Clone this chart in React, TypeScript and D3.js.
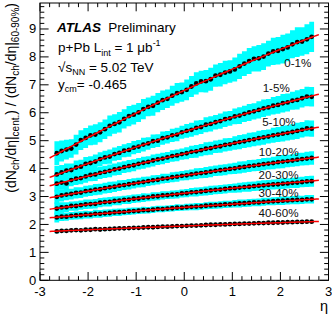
import React from "react";
import * as d3 from "d3";

// eta bin centres (bin width 0.1)
const etaBins = [-2.65, -2.55, -2.45, -2.35, -2.25, -2.15, -2.05, -1.95, -1.85, -1.75, -1.65, -1.55, -1.45, -1.35, -1.25, -1.15, -1.05, -0.95, -0.85, -0.75, -0.65, -0.55, -0.45, -0.35, -0.25, -0.15, -0.05, 0.05, 0.15, 0.25, 0.35, 0.45, 0.55, 0.65, 0.75, 0.85, 0.95, 1.05, 1.15, 1.25, 1.35, 1.45, 1.55, 1.65, 1.75, 1.85, 1.95, 2.05, 2.15, 2.25, 2.35, 2.45, 2.55, 2.65];

const centralities = ["0-1%", "1-5%", "5-10%", "10-20%", "20-30%", "30-40%", "40-60%"];

const ratio0to1 = [4.55, 4.63, 4.68, 4.72, 4.86, 5.02, 5.10, 5.19, 5.22, 5.30, 5.41, 5.53, 5.60, 5.66, 5.78, 5.88, 5.93, 6.01, 6.13, 6.21, 6.25, 6.36, 6.45, 6.50, 6.61, 6.70, 6.74, 6.82, 6.94, 7.05, 7.12, 7.13, 7.20, 7.33, 7.36, 7.44, 7.48, 7.55, 7.66, 7.76, 7.85, 7.93, 7.95, 8.01, 8.12, 8.20, 8.22, 8.28, 8.34, 8.45, 8.53, 8.55, 8.63, 8.72];
const ratio1to5 = [3.79, 3.86, 3.93, 3.95, 4.04, 4.07, 4.17, 4.20, 4.25, 4.34, 4.40, 4.43, 4.52, 4.56, 4.64, 4.67, 4.75, 4.79, 4.86, 4.90, 4.98, 5.00, 5.09, 5.12, 5.19, 5.22, 5.30, 5.35, 5.39, 5.46, 5.49, 5.57, 5.60, 5.66, 5.70, 5.77, 5.80, 5.87, 5.90, 5.96, 6.01, 6.05, 6.10, 6.16, 6.19, 6.25, 6.28, 6.34, 6.37, 6.43, 6.46, 6.52, 6.58, 6.57];
const ratio5to10 = [3.46, 3.50, 3.47, 3.59, 3.64, 3.66, 3.72, 3.77, 3.79, 3.85, 3.88, 3.92, 3.97, 4.00, 4.05, 4.09, 4.12, 4.17, 4.21, 4.24, 4.29, 4.33, 4.36, 4.40, 4.45, 4.47, 4.52, 4.55, 4.60, 4.62, 4.66, 4.71, 4.73, 4.78, 4.80, 4.85, 4.87, 4.92, 4.95, 4.98, 5.02, 5.05, 5.09, 5.12, 5.15, 5.19, 5.22, 5.25, 5.28, 5.31, 5.35, 5.39, 5.44, 5.43];
const ratio10to20 = [2.99, 3.04, 3.07, 3.09, 3.13, 3.14, 3.19, 3.21, 3.25, 3.26, 3.30, 3.33, 3.35, 3.39, 3.41, 3.44, 3.47, 3.50, 3.52, 3.55, 3.58, 3.60, 3.64, 3.65, 3.69, 3.71, 3.74, 3.76, 3.79, 3.82, 3.84, 3.86, 3.89, 3.92, 3.94, 3.96, 3.99, 4.01, 4.04, 4.06, 4.09, 4.11, 4.13, 4.16, 4.18, 4.20, 4.23, 4.25, 4.27, 4.29, 4.32, 4.34, 4.36, 4.38];
const ratio20to30 = [2.57, 2.61, 2.62, 2.66, 2.66, 2.69, 2.72, 2.73, 2.74, 2.78, 2.80, 2.81, 2.84, 2.85, 2.88, 2.89, 2.92, 2.93, 2.96, 2.97, 3.00, 3.01, 3.04, 3.05, 3.07, 3.08, 3.11, 3.12, 3.15, 3.16, 3.18, 3.20, 3.22, 3.24, 3.25, 3.27, 3.29, 3.30, 3.32, 3.34, 3.35, 3.37, 3.39, 3.40, 3.42, 3.43, 3.44, 3.46, 3.47, 3.49, 3.50, 3.52, 3.54, 3.55];
const ratio30to40 = [2.25, 2.28, 2.28, 2.31, 2.32, 2.33, 2.35, 2.35, 2.38, 2.38, 2.40, 2.41, 2.43, 2.44, 2.45, 2.47, 2.48, 2.49, 2.51, 2.51, 2.53, 2.55, 2.55, 2.57, 2.58, 2.60, 2.60, 2.62, 2.63, 2.64, 2.65, 2.67, 2.68, 2.69, 2.70, 2.72, 2.72, 2.74, 2.75, 2.76, 2.77, 2.79, 2.79, 2.81, 2.82, 2.83, 2.84, 2.85, 2.86, 2.87, 2.88, 2.88, 2.90, 2.90];
const ratio40to60 = [1.75, 1.77, 1.77, 1.79, 1.80, 1.79, 1.81, 1.81, 1.83, 1.82, 1.83, 1.84, 1.85, 1.86, 1.86, 1.87, 1.88, 1.88, 1.89, 1.90, 1.90, 1.91, 1.92, 1.92, 1.93, 1.94, 1.94, 1.95, 1.96, 1.96, 1.97, 1.98, 1.99, 1.99, 2.00, 2.00, 2.01, 2.02, 2.02, 2.03, 2.03, 2.04, 2.05, 2.05, 2.06, 2.06, 2.07, 2.07, 2.08, 2.08, 2.09, 2.09, 2.10, 2.10];

const ratios = [ratio0to1, ratio1to5, ratio5to10, ratio10to20, ratio20to30, ratio30to40, ratio40to60];

// relative systematic uncertainty per centrality, and its eta dependence
const sysRel = [0.054, 0.046, 0.047, 0.048, 0.048, 0.046, 0.02];
const sysShape = [1.75, 1.5, 1.4, 1.3, 1.35, 1.3, 1.3, 1.25, 1.3, 1.25, 1.2, 1.25, 1.15, 1.2, 1.1, 1.15, 1.1, 1.05, 1.1, 1.0, 1.05, 1.0, 1.0, 0.95, 1.0, 1.0, 0.95, 1.0, 1.0, 1.05, 1.0, 1.05, 1.05, 1.0, 1.05, 1.05, 1.0, 1.05, 1.1, 1.05, 1.1, 1.05, 1.1, 1.1, 1.05, 1.1, 1.1, 1.15, 1.1, 1.1, 1.15, 1.1, 1.15, 1.15];

// quadratic fit parameters: c + b*eta + a*eta^2
const fitC = [6.80, 5.32, 4.535, 3.75, 3.115, 2.61, 1.945];
const fitB = [0.789, 0.532, 0.375, 0.26, 0.185, 0.121, 0.064];
const fitA = [-0.027, -0.0185, -0.0128, -0.0085, -0.0064, -0.0043, -0.0021];
const fitRange = [-2.8, 2.8];

const xTickLabels = ["-3", "-2", "-1", "0", "1", "2", "3"];
const yTickLabels = ["0", "1", "2", "3", "4", "5", "6", "7", "8", "9"];

const font = "Liberation Sans, Arial, Helvetica, sans-serif";

const App = () => {
  const width = 332;
  const height = 319;
  const left = 40;
  const right = 328.5;
  const top = 3;
  const bottom = 280.3;

  const x = d3.scaleLinear().domain([-3, 3]).range([left, right]);
  const y = d3.scaleLinear().domain([0, 9.93]).range([bottom, top]);

  const half = 0.05;

  // stepped band per series (one box per bin)
  const band = d3
    .area<{ e: number; lo: number; hi: number }>()
    .x((d) => x(d.e))
    .y0((d) => y(d.lo))
    .y1((d) => y(d.hi));

  const fitLine = d3
    .line<number[]>()
    .x((d) => x(d[0]))
    .y((d) => y(d[1]));

  const fitEtas = d3.range(fitRange[0], fitRange[1] + 0.001, 0.05);

  const xMinor = x.ticks(30);
  const yMinor = y.ticks(50);
  const xMajor = xTickLabels.map(Number);
  const yMajor = yTickLabels.map(Number);

  const xTickLong = 8.3;
  const yTickLong = 8.6;

  // label anchors in data coordinates (left edge, baseline)
  const labelAt = [
    [2.08, 7.64],
    [1.63, 6.73],
    [1.62, 5.51],
    [1.55, 4.46],
    [1.545, 3.64],
    [1.545, 2.97],
    [1.545, 2.27],
  ];

  return (
    <svg
      width={width}
      height={height}
      style={{ position: "absolute", left: 0, top: 0, background: "#fff" }}
      fontFamily={font}
    >
      {/* systematic bands */}
      {ratios.map((vals, i) => {
        const pts: { e: number; lo: number; hi: number }[] = [];
        vals.forEach((v, j) => {
          const err = v * sysRel[i] * sysShape[j];
          pts.push({ e: etaBins[j] - half, lo: v - err, hi: v + err });
          pts.push({ e: etaBins[j] + half, lo: v - err, hi: v + err });
        });
        return <path key={"b" + i} d={band(pts) || ""} fill="#00ffff" stroke="none" />;
      })}

      {/* data points */}
      {ratios.map((vals, i) => (
        <g key={"p" + i}>
          {vals.map((v, j) => (
            <circle key={j} cx={x(etaBins[j])} cy={y(v)} r={2.4} fill="#000" />
          ))}
        </g>
      ))}

      {/* fits */}
      {centralities.map((c, i) => (
        <path
          key={"f" + c}
          d={fitLine(fitEtas.map((e) => [e, fitC[i] + fitB[i] * e + fitA[i] * e * e])) || ""}
          fill="none"
          stroke="#ff0000"
          strokeWidth={1.5}
        />
      ))}

      {/* centrality labels */}
      {centralities.map((c, i) => (
        <text key={"l" + c} x={x(labelAt[i][0])} y={y(labelAt[i][1])} fontSize={11.6} fill="#111">
          {c}
        </text>
      ))}

      {/* frame */}
      <rect x={left} y={top} width={right - left} height={bottom - top} fill="none" stroke="#000" strokeWidth={1} />

      {/* x ticks bottom and top */}
      {xMinor.map((t) => {
        const len = xMajor.includes(Math.round(t * 10) / 10) ? xTickLong : xTickLong / 2;
        return (
          <g key={"xt" + t} stroke="#000" strokeWidth={1}>
            <line x1={x(t)} x2={x(t)} y1={bottom} y2={bottom - len} />
            <line x1={x(t)} x2={x(t)} y1={top} y2={top + len} />
          </g>
        );
      })}
      {/* y ticks left and right */}
      {yMinor.map((t) => {
        const len = yMajor.includes(Math.round(t * 10) / 10) ? yTickLong : yTickLong / 2;
        return (
          <g key={"yt" + t} stroke="#000" strokeWidth={1}>
            <line x1={left} x2={left + len} y1={y(t)} y2={y(t)} />
            <line x1={right} x2={right - len} y1={y(t)} y2={y(t)} />
          </g>
        );
      })}

      {/* tick labels */}
      {xTickLabels.map((s) => (
        <text key={"xl" + s} x={x(Number(s))} y={295.5} fontSize={13} textAnchor="middle" fill="#000">
          {s}
        </text>
      ))}
      {yTickLabels.map((s) => (
        <text key={"yl" + s} x={36.3} y={y(Number(s)) + 4.2} fontSize={13} textAnchor="end" fill="#000">
          {s}
        </text>
      ))}

      {/* axis titles */}
      <text x={328} y={310.5} fontSize={14.5} textAnchor="end" fill="#000">
        η
      </text>
      <text transform="translate(15.5,3) rotate(-90)" fontSize={14} textAnchor="end" fill="#000">
        (dN<tspan dy={3.5} fontSize={10}>ch</tspan>
        <tspan dy={-3.5}>/dη|</tspan>
        <tspan dy={3.5} fontSize={10}>cent.</tspan>
        <tspan dy={-3.5}>) / (dN</tspan>
        <tspan dy={3.5} fontSize={10}>ch</tspan>
        <tspan dy={-3.5}>/dη|</tspan>
        <tspan dy={3.5} fontSize={10}>60-90%</tspan>
        <tspan dy={-3.5}>)</tspan>
      </text>

      {/* ATLAS block */}
      <text x={57} y={32} fontSize={13.5} fill="#000">
        <tspan fontWeight="bold" fontStyle="italic">ATLAS</tspan>
        <tspan x={108.3}>Preliminary</tspan>
      </text>
      <text x={58} y={51.5} fontSize={13.5} fill="#000">
        p+Pb L<tspan dy={4.5} fontSize={9}>int</tspan>
        <tspan dy={-4.5}> = 1 μb</tspan>
        <tspan dy={-5.5} fontSize={9}>-1</tspan>
      </text>
      <text x={58} y={72} fontSize={13.5} fill="#000">
        √s<tspan dy={3} fontSize={9}>NN</tspan>
        <tspan dy={-3}> = 5.02 TeV</tspan>
      </text>
      <text x={58} y={88.5} fontSize={13.5} fill="#000">
        y<tspan dy={3} fontSize={9}>cm</tspan>
        <tspan dy={-3}>= -0.465</tspan>
      </text>
    </svg>
  );
};

export default App;
